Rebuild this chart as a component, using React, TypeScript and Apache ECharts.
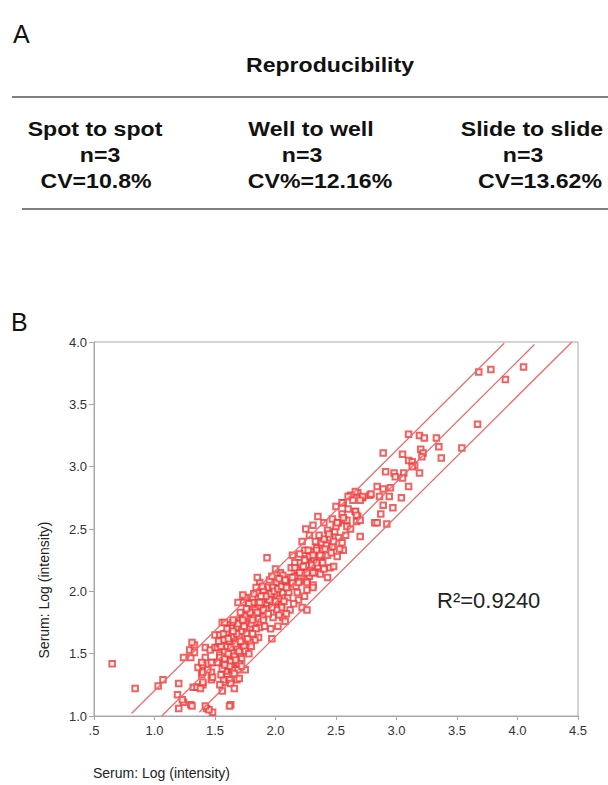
import React, { useEffect, useRef } from "react";
import * as echarts from "echarts";

// ---- Panel A: reproducibility table ----
const tableTitle = "Reproducibility";
const columnHeads = ["Spot to spot", "Well to well", "Slide to slide"];
const columnN = ["n=3", "n=3", "n=3"];
const columnCV = ["CV=10.8%", "CV%=12.16%", "CV=13.62%"];

// ---- Panel B: scatter ----
const axisTitle = "Serum: Log (intensity)";
const r2Label = "R²=0.9240";
const xMin = 0.5;
const xMax = 4.5;
const yMin = 1.0;
const yMax = 4.0;
const tickStep = 0.5;

// reference lines (two end points each)
const upperLine: [number, number][] = [[0.81, 1.02], [3.89, 3.99]];
const fitLine: [number, number][] = [[1.06, 1.0], [4.14, 3.98]];
const lowerLine: [number, number][] = [[1.37, 1.03], [4.45, 4.0]];

const lowPoints: [number, number][] = [
  [0.65, 1.42], [0.84, 1.22], [1.03, 1.24], [1.07, 1.29], [1.2, 1.26], [1.19, 1.17], [1.24, 1.11], [1.2, 1.06],
  [1.3, 1.09], [1.24, 1.47], [1.29, 1.53], [1.33, 1.57], [1.3, 1.47], [1.36, 1.39], [1.39, 1.33], [1.32, 1.23],
  [1.36, 1.23], [1.4, 1.25], [1.4, 1.41], [1.42, 1.47], [1.42, 1.55], [1.46, 1.53], [1.5, 1.55], [1.48, 1.43],
  [1.47, 1.35], [1.47, 1.29], [1.43, 1.06], [1.48, 1.03], [1.63, 1.09], [1.5, 1.65], [1.56, 1.75], [1.54, 1.49],
  [1.58, 1.27], [1.59, 1.31], [1.23, 1.13], [1.45, 1.05], [1.31, 1.08], [1.42, 1.08], [1.62, 1.08], [1.35, 1.23],
  [1.38, 1.22], [1.31, 1.59], [1.33, 1.51], [1.39, 1.43],
];

const densePointsA: [number, number][] = [
  [1.52, 1.55], [1.54, 1.65], [1.54, 1.58], [1.57, 1.61], [1.6, 1.67], [1.62, 1.73], [1.64, 1.71], [1.65, 1.75],
  [1.68, 1.71], [1.71, 1.77], [1.73, 1.79], [1.77, 1.83], [1.81, 1.87], [1.83, 1.85], [1.85, 1.91], [1.89, 1.91],
  [1.93, 1.89], [1.97, 1.91], [2.01, 1.91], [2.05, 1.89], [1.76, 1.75], [1.79, 1.71], [1.83, 1.75], [1.87, 1.71],
  [1.86, 1.63], [1.83, 1.61], [1.97, 1.62], [1.79, 1.59], [1.73, 1.59], [1.73, 1.53], [1.71, 1.49], [1.68, 1.55],
  [1.64, 1.51], [1.62, 1.47], [1.6, 1.45], [1.57, 1.43], [1.54, 1.47], [1.52, 1.43], [1.47, 1.43], [1.6, 1.39],
  [1.64, 1.41], [1.68, 1.43], [1.65, 1.37], [1.69, 1.37], [1.75, 1.37], [1.6, 1.33], [1.62, 1.29], [1.57, 1.29],
  [1.68, 1.29], [1.4, 1.35], [1.44, 1.37], [1.48, 1.31], [1.4, 1.27], [1.54, 1.25],
  [1.58, 1.52], [1.6, 1.56], [1.62, 1.6], [1.63, 1.55], [1.66, 1.62], [1.67, 1.58], [1.7, 1.64], [1.72, 1.68],
  [1.74, 1.72], [1.76, 1.66], [1.78, 1.78], [1.8, 1.74], [1.82, 1.8], [1.84, 1.7], [1.86, 1.78], [1.88, 1.84],
  [1.9, 1.8], [1.92, 1.86], [1.58, 1.46], [1.61, 1.5], [1.63, 1.44], [1.66, 1.48], [1.7, 1.52], [1.72, 1.46],
  [1.59, 1.36], [1.62, 1.4], [1.56, 1.38], [1.66, 1.34], [1.7, 1.42], [1.74, 1.56], [1.77, 1.62], [1.81, 1.66],
  [1.55, 1.56], [1.57, 1.66], [1.6, 1.7], [1.64, 1.64], [1.68, 1.66], [1.71, 1.6], [1.75, 1.52], [1.78, 1.5],
  [1.63, 1.26], [1.66, 1.22], [1.7, 1.3], [1.56, 1.2], [1.72, 1.4], [1.8, 1.56],
  [1.55, 1.33], [1.58, 1.41], [1.61, 1.62], [1.65, 1.68], [1.69, 1.74], [1.75, 1.8], [1.53, 1.6], [1.67, 1.45],
];

const densePointsB: [number, number][] = [
  [1.93, 2.27], [2.14, 2.29], [2.24, 2.33], [2.29, 2.32], [2.34, 2.35], [2.3, 2.23], [2.2, 2.23], [2.18, 2.17],
  [2.22, 2.15], [2.29, 2.17], [2.33, 2.15], [2.26, 2.09], [2.04, 2.15], [2.06, 2.13], [2.12, 2.11], [2.14, 2.07],
  [2.09, 2.05], [2.01, 2.07], [1.95, 2.09], [1.98, 2.03], [1.93, 2.03], [1.9, 2.01], [1.85, 1.99], [1.81, 1.95],
  [1.75, 1.95], [1.73, 1.91], [1.81, 1.91], [1.87, 1.91], [1.94, 1.95], [2.01, 1.97], [2.06, 1.99], [2.1, 1.95],
  [2.18, 1.99], [2.26, 2.01], [2.31, 2.05], [2.22, 1.87], [2.26, 1.85], [2.12, 1.85], [2.05, 1.87], [2.01, 1.85],
  [1.97, 1.87], [1.9, 1.85], [1.85, 1.83], [1.79, 1.83], [1.71, 1.83], [1.65, 1.77], [1.73, 1.77], [1.81, 1.77],
  [1.9, 1.77], [1.98, 1.79], [2.06, 1.79], [1.58, 1.75], [1.73, 1.97], [1.69, 1.91], [1.87, 2.07], [1.85, 2.11],
  [1.96, 1.98], [1.99, 2.0], [2.02, 2.02], [2.03, 1.94], [2.05, 2.04], [2.07, 1.92], [2.08, 2.08], [2.1, 2.02],
  [2.0, 1.92], [1.95, 1.93], [1.92, 1.96], [1.88, 1.96], [1.89, 2.04], [1.97, 2.12], [2.0, 2.18], [2.03, 2.1],
  [2.11, 1.99], [2.13, 2.19], [2.16, 2.12], [2.17, 2.04], [2.2, 2.08], [2.23, 2.2], [2.25, 2.26], [2.28, 2.12],
  [2.19, 1.93], [2.15, 1.9], [2.09, 1.82], [2.03, 1.81], [1.94, 1.82], [2.24, 1.96], [2.28, 2.28], [2.32, 2.26],
  [2.36, 2.28], [2.35, 2.2], [2.38, 2.24], [1.84, 2.03], [1.78, 1.9], [1.76, 1.86], [1.82, 1.98], [2.02, 1.72],
  [1.96, 1.7], [2.08, 1.76], [1.91, 1.72],
];

const densePointsC: [number, number][] = [
  [2.62, 2.77], [2.68, 2.79], [2.72, 2.75], [2.78, 2.77], [2.56, 2.71], [2.66, 2.64], [2.68, 2.6], [2.67, 2.56],
  [2.57, 2.57], [2.52, 2.55], [2.59, 2.52], [2.82, 2.55], [2.7, 2.44], [2.31, 2.53], [2.43, 2.49], [2.49, 2.48],
  [2.45, 2.43], [2.52, 2.43], [2.55, 2.39], [2.38, 2.39], [2.42, 2.37], [2.47, 2.36], [2.34, 2.33], [2.39, 2.33],
  [2.27, 2.33], [2.31, 2.29], [2.37, 2.29], [2.43, 2.29], [2.51, 2.28], [2.56, 2.33], [2.24, 2.25], [2.3, 2.21],
  [2.34, 2.23], [2.39, 2.23], [2.45, 2.19], [2.16, 2.23], [2.16, 2.19], [2.2, 2.15], [2.26, 2.15], [2.31, 2.15],
  [2.43, 2.11], [2.14, 2.11], [2.08, 2.09], [2.19, 2.07], [2.26, 2.07], [2.31, 2.03], [2.09, 2.03],
  [2.4, 2.42], [2.44, 2.46], [2.48, 2.4], [2.5, 2.52], [2.36, 2.45], [2.33, 2.4], [2.41, 2.34], [2.46, 2.31],
  [2.53, 2.34], [2.58, 2.45], [2.47, 2.58], [2.4, 2.55], [2.35, 2.6], [2.28, 2.45], [2.22, 2.4], [2.25, 2.5],
  [2.2, 2.3], [2.37, 2.14], [2.4, 2.18], [2.48, 2.2], [2.62, 2.5], [2.6, 2.66], [2.55, 2.62], [2.5, 2.68],
];

const highPoints: [number, number][] = [
  [3.68, 3.76], [3.78, 3.78], [4.05, 3.8], [3.9, 3.7], [3.67, 3.34], [3.1, 3.26], [3.19, 3.25], [3.23, 3.23],
  [3.33, 3.23], [3.35, 3.16], [3.54, 3.15], [2.89, 3.11], [3.05, 3.1], [3.2, 3.14], [3.22, 3.11], [3.21, 3.08],
  [3.1, 3.05], [3.13, 3.04], [3.15, 3.01], [3.13, 3.0], [3.37, 3.07], [2.91, 2.96], [2.98, 2.95], [2.99, 2.92],
  [3.06, 2.95], [3.05, 2.91], [3.19, 2.95], [3.1, 2.84], [2.95, 2.83], [2.89, 2.82], [2.84, 2.84], [3.04, 2.75],
  [2.94, 2.76], [2.79, 2.78], [2.72, 2.76], [2.66, 2.8], [2.6, 2.76], [2.64, 2.73], [2.7, 2.73], [2.86, 2.76],
  [2.89, 2.69], [2.97, 2.67], [2.87, 2.62], [2.66, 2.64], [2.67, 2.61], [2.7, 2.57], [2.59, 2.57], [2.84, 2.55],
  [2.92, 2.54], [2.51, 2.55], [2.56, 2.59], [2.55, 2.71],
];

const FONT = '"Liberation Sans", Arial, Helvetica, sans-serif';
const POINT_COLOR = "#f03a3a";
const LINE_COLOR = "#ee6a6a";
const AXIS_COLOR = "#a8a8a8";

export default function App() {
  const ref = useRef<HTMLDivElement>(null);

  useEffect(() => {
    if (!ref.current) return;
    const chart = echarts.init(ref.current, undefined, { renderer: "svg" });

    const allPoints = [...lowPoints, ...densePointsA, ...densePointsB, ...densePointsC, ...highPoints];

    const colX = [95, 311, 532];
    const nX = [100, 302, 523];
    const cvX = [96, 320, 540];

    const headText = (text: string, x: number, y: number) => ({
      type: "text",
      x,
      y,
      style: {
        text,
        font: `bold 21px ${FONT}`,
        textAlign: "center",
        textVerticalAlign: "middle",
        fill: "#111",
      },
      scaleX: 1.1,
    });

    const graphics: any[] = [
      {
        type: "text",
        x: 13,
        y: 34,
        style: { text: "A", font: `25px ${FONT}`, textAlign: "left", textVerticalAlign: "middle", fill: "#111" },
      },
      headText(tableTitle, 330, 65),
      {
        type: "line",
        shape: { x1: 12, y1: 97, x2: 608, y2: 97 },
        style: { stroke: "#555", lineWidth: 1.5 },
      },
      ...columnHeads.map((t, i) => headText(t, colX[i], 129)),
      ...columnN.map((t, i) => headText(t, nX[i], 155)),
      ...columnCV.map((t, i) => headText(t, cvX[i], 181)),
      {
        type: "line",
        shape: { x1: 22, y1: 209, x2: 608, y2: 209 },
        style: { stroke: "#555", lineWidth: 1.5 },
      },
      {
        type: "text",
        x: 11,
        y: 322,
        style: { text: "B", font: `25px ${FONT}`, textAlign: "left", textVerticalAlign: "middle", fill: "#111" },
      },
      {
        type: "text",
        x: 44,
        y: 590,
        rotation: Math.PI / 2,
        style: { text: axisTitle, font: `14px ${FONT}`, textAlign: "center", textVerticalAlign: "middle", fill: "#222" },
      },
      {
        type: "text",
        x: 93,
        y: 773,
        style: { text: axisTitle, font: `14px ${FONT}`, textAlign: "left", textVerticalAlign: "middle", fill: "#222" },
      },
      {
        type: "text",
        x: 437,
        y: 600,
        style: { text: r2Label, font: `22px ${FONT}`, textAlign: "left", textVerticalAlign: "middle", fill: "#222" },
      },
    ];

    const toSegment = (pts: [number, number][]) => [{ coord: pts[0] }, { coord: pts[1] }];

    chart.setOption({
      animation: false,
      backgroundColor: "#fff",
      color: [POINT_COLOR, LINE_COLOR],
      grid: {
        left: 94,
        top: 342,
        width: 484,
        height: 374,
        show: true,
        borderColor: AXIS_COLOR,
        borderWidth: 1,
        backgroundColor: "transparent",
      },
      xAxis: {
        type: "value",
        min: xMin,
        max: xMax,
        interval: tickStep,
        axisLine: { show: true, lineStyle: { color: AXIS_COLOR } },
        axisTick: { show: true, length: 4, lineStyle: { color: AXIS_COLOR } },
        splitLine: { show: false },
        axisLabel: {
          color: "#333",
          fontSize: 13,
          fontFamily: FONT,
          margin: 8,
          showMinLabel: true,
          showMaxLabel: true,
          formatter: (v: number) => (v === 0.5 ? ".5" : v.toFixed(1)),
        },
      },
      yAxis: {
        type: "value",
        min: yMin,
        max: yMax,
        interval: tickStep,
        axisLine: { show: true, lineStyle: { color: AXIS_COLOR } },
        axisTick: { show: true, length: 5, lineStyle: { color: AXIS_COLOR } },
        splitLine: { show: false },
        axisLabel: {
          color: "#333",
          fontSize: 13,
          fontFamily: FONT,
          margin: 7,
          showMinLabel: true,
          showMaxLabel: true,
          formatter: (v: number) => v.toFixed(1),
        },
      },
      series: [
        {
          type: "scatter",
          data: allPoints,
          symbol: "emptyRect",
          symbolSize: 5.5,
          itemStyle: { color: POINT_COLOR, borderColor: POINT_COLOR, borderWidth: 0.7 },
          z: 2,
          markLine: {
            silent: true,
            symbol: ["none", "none"],
            label: { show: false },
            lineStyle: { color: LINE_COLOR, width: 1.3, type: "solid" },
            emphasis: { disabled: true },
            data: [toSegment(upperLine), toSegment(fitLine), toSegment(lowerLine)],
          },
        },
      ],
      graphic: graphics,
    });

    return () => chart.dispose();
  }, []);

  return (
    <div
      ref={ref}
      style={{ position: "absolute", left: 0, top: 0, width: 608, height: 785, background: "#fff" }}
    />
  );
}
